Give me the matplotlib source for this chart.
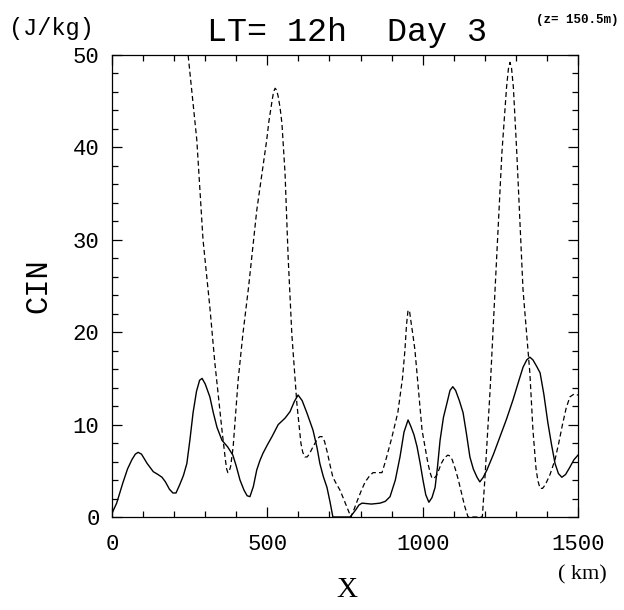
import matplotlib
matplotlib.use("Agg")
import matplotlib.pyplot as plt
from matplotlib.ticker import MultipleLocator

# solid curve (km, J/kg)
x_solid = [0, 15, 35, 50, 64, 75, 84, 95, 113, 133, 148, 161, 172, 185, 196, 206,
           218, 230, 241, 251, 261, 272, 282, 290, 300, 315, 326, 338, 354, 372,
           389, 400, 412, 425, 435, 444, 455, 466, 476, 486, 500, 515, 535, 557,
           573, 587, 599, 612, 627, 647, 660, 669, 680, 692, 702, 711,
           766, 776, 785, 795, 805, 835, 863, 880, 895, 912, 927, 940, 953, 962,
           972, 982, 992, 1001, 1010, 1020, 1030, 1040, 1048, 1056, 1067, 1078,
           1088, 1097, 1106, 1118, 1130, 1141, 1152, 1163, 1175, 1184, 1195, 1207,
           1228, 1249, 1270, 1291, 1310, 1323, 1335, 1345, 1355, 1367, 1378, 1390,
           1403, 1415, 1426, 1437, 1448, 1460, 1474, 1487, 1500]
cin_solid = [0.4, 1.5, 3.7, 5.2, 6.2, 6.8, 7.0, 6.8, 5.8, 4.9, 4.6, 4.3, 3.8, 3.0,
             2.6, 2.6, 3.5, 4.5, 5.8, 8.4, 11.3, 13.6, 14.8, 15.0, 14.4, 13.0, 11.3,
             9.7, 8.3, 7.6, 6.7, 5.5, 4.0, 2.9, 2.3, 2.2, 3.3, 5.1, 6.1, 6.9, 7.8,
             8.7, 10.0, 10.7, 11.4, 12.5, 13.2, 12.6, 11.3, 9.4, 7.5, 5.8, 4.4, 3.2,
             1.6, 0.0,
             0.0, 0.4, 0.8, 1.3, 1.5, 1.4, 1.5, 1.7, 2.2, 4.0, 6.5, 9.2, 10.5, 9.8,
             8.9, 7.6, 5.8, 4.0, 2.4, 1.6, 2.1, 3.2, 5.5, 8.3, 10.8, 12.3, 13.7, 14.1,
             13.7, 12.6, 11.3, 9.0, 6.5, 5.2, 4.3, 3.8, 4.3, 5.1, 6.8, 8.7, 10.6,
             12.7, 14.8, 16.2, 17.0, 17.3, 17.0, 16.3, 15.6, 13.3, 10.2, 7.8, 5.8,
             4.7, 4.3, 4.6, 5.4, 6.2, 6.7]

# dashed curve (km, J/kg)
x_dash = [220, 245, 273, 293, 315, 331, 354, 365, 369, 373, 377, 382, 390, 406, 421,
          440, 466, 498, 505, 515, 520, 525, 530, 535, 541, 547, 557, 567, 579, 595,
          608, 614, 621, 628, 635, 647, 662, 669, 676, 684, 693, 702, 711, 722, 734,
          745, 757, 769, 780, 790, 803, 815, 828, 840, 855, 869, 880, 900, 920, 935,
          943, 948, 953, 958, 963, 969, 975, 998, 1017, 1024, 1030, 1037, 1045, 1052,
          1060, 1070, 1081, 1088, 1095, 1105, 1115, 1125, 1135, 1146, 1192, 1200,
          1217, 1233, 1255, 1270, 1276, 1281, 1286, 1292, 1303, 1323, 1345, 1355,
          1365, 1371, 1378, 1386, 1395, 1410, 1426, 1438, 1450, 1462, 1474, 1487,
          1500]
cin_dash = [58, 50, 40.8, 30.0, 22.7, 16.7, 9.4, 6.2, 5.2, 4.8, 4.9, 5.5, 7.6, 14.8,
            19.7, 25.0, 33.2, 40.8, 42.8, 45.0, 46.0, 46.4, 46.2, 45.5, 44.3, 42.6,
            37.2, 28.1, 19.7, 12.3, 8.0, 7.0, 6.5, 6.5, 6.8, 7.6, 8.5, 8.7, 8.7, 8.2,
            7.0, 5.6, 4.3, 3.6, 2.9, 2.0, 1.0, 0.0, 0.9, 1.8, 2.9, 3.8, 4.4, 4.8, 4.8,
            4.8, 6.0, 8.5, 11.3, 15.0, 18.1, 20.8, 22.4, 22.2, 21.0, 19.6, 18.1, 9.4,
            5.8, 4.8, 4.2, 4.2, 4.5, 5.1, 5.8, 6.4, 6.7, 6.6, 6.2, 5.2, 4.0, 2.6, 1.2,
            0.0, 0.0, 4.0, 13.7, 24.6, 39.4, 46.5, 48.5, 49.2, 48.6, 46.5, 39.4, 24.6,
            15.6, 9.4, 5.2, 3.9, 3.1, 3.1, 3.5, 4.6, 6.2, 8.0, 10.0, 11.8, 13.0,
            13.3, 13.2]

x_ticks = [0, 500, 1000, 1500]
y_ticks = [0, 10, 20, 30, 40, 50]

mono = "Liberation Mono"

fig = plt.figure(figsize=(6.24, 6.10), dpi=100)
ax = fig.add_axes([112 / 624, 1 - 517 / 610, 466 / 624, 462 / 610])

ax.plot(x_solid, cin_solid, color="black", lw=1.0)
ax.plot(x_dash, cin_dash, color="black", lw=0.9, dashes=(4, 2.5))

ax.set_xlim(0, 1500)
ax.set_ylim(0, 50)
ax.set_xticks(x_ticks)
ax.set_yticks(y_ticks)
ax.xaxis.set_minor_locator(MultipleLocator(100))
ax.yaxis.set_minor_locator(MultipleLocator(2))
ax.tick_params(which="both", direction="in", top=True, right=True, width=0.9)
ax.tick_params(which="major", length=7)
ax.tick_params(which="minor", length=4)
ax.tick_params(axis="x", pad=12)
ax.tick_params(axis="y", pad=9)
for s in ax.spines.values():
    s.set_linewidth(0.9)
for lab in ax.get_xticklabels() + ax.get_yticklabels():
    lab.set_family(mono)
    lab.set_fontsize(16)

ax.set_ylabel("CIN", family=mono, fontsize=22, labelpad=14)

fig.text(347 / 624, 1 - 33 / 610, "LT= 12h  Day 3", family=mono, fontsize=24,
         ha="center", va="center")
fig.text(51 / 624, 1 - 28 / 610, "(J/kg)", family=mono, fontsize=17,
         ha="center", va="center")
fig.text(577 / 624, 1 - 20 / 610, "(z= 150.5m)", family=mono, fontsize=9,
         fontweight="bold", ha="center", va="center")
fig.text(582 / 624, 1 - 575 / 610, "( km)", family="Liberation Serif", fontsize=16,
         ha="center", va="center")
fig.text(347 / 624, 1 - 590 / 610, "X", family="Liberation Serif", fontsize=21,
         ha="center", va="center")

fig.savefig("out.png", dpi=100)
